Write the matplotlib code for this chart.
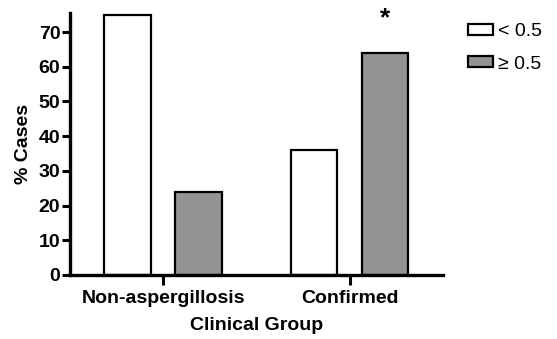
import numpy as np
import matplotlib
matplotlib.use("Agg")
import matplotlib.pyplot as plt
from matplotlib.patches import Patch

plt.rcParams['font.family'] = ['Liberation Sans', 'DejaVu Sans']

groups = ["Non-aspergillosis", "Confirmed"]
low_vals = [75, 36]    # < 0.5
high_vals = [24, 64]   # >= 0.5
series_labels = ["< 0.5", "\u2265 0.5"]
yticks = [0, 10, 20, 30, 40, 50, 60, 70]

fig = plt.figure(figsize=(5.57, 3.39), dpi=100)
ax = fig.add_axes([0.1257, 0.189, 0.795 - 0.1257, 0.9617 - 0.189])

x = np.arange(len(groups))
w = 0.25
off = 0.19
ax.bar(x - off, low_vals, w, color="white", edgecolor="black", linewidth=1.6)
ax.bar(x + off, high_vals, w, color="#939393", edgecolor="black", linewidth=1.6)

# significance marker
ax.text(x[1] + off, 70.5, "*", ha="center", va="bottom", fontsize=19, fontweight="bold")

ax.set_xlim(-0.5, 1.5)
ax.set_ylim(0, 75.5)
ax.set_yticks(yticks)
ax.set_xticks(x)
ax.set_xticklabels(groups, fontsize=14, fontweight="bold")
ax.set_yticklabels([str(v) for v in yticks], fontsize=14, fontweight="bold")
ax.tick_params(axis="both", direction="out", width=2.2, length=6, pad=1)
ax.tick_params(axis="x", length=7, pad=4)

for s in ["top", "right"]:
    ax.spines[s].set_visible(False)
for s in ["left", "bottom"]:
    ax.spines[s].set_linewidth(2.4)

ax.set_xlabel("Clinical Group", fontsize=14, fontweight="bold", labelpad=7)
ax.set_ylabel("% Cases", fontsize=14, fontweight="bold", labelpad=5)

handles = [Patch(facecolor="white", edgecolor="black", linewidth=1.6),
           Patch(facecolor="#939393", edgecolor="black", linewidth=1.6)]
fig.legend(handles, series_labels, loc="upper left", bbox_to_anchor=(0.822, 0.96),
           frameon=False, fontsize=14, handlelength=1.3, handleheight=0.5,
           handletextpad=0.25, labelspacing=0.8, borderpad=0.0)

fig.savefig("out.png", dpi=100)
